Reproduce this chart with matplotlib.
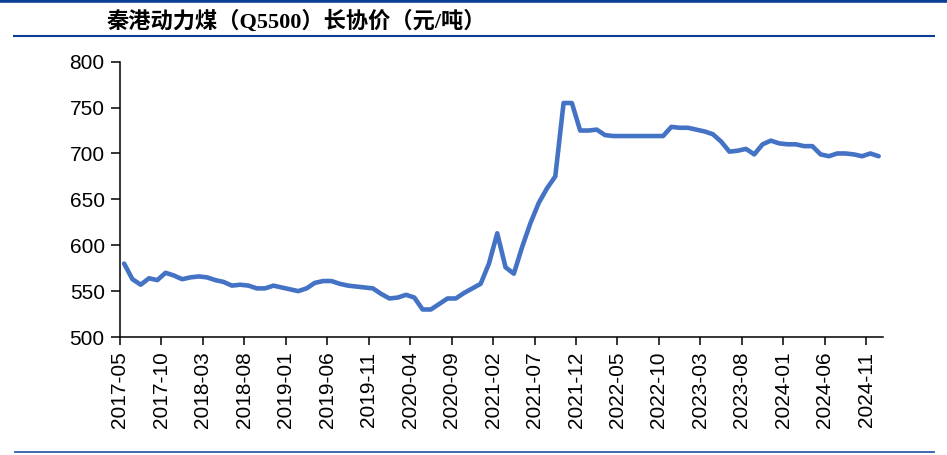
import matplotlib
matplotlib.use("Agg")
import matplotlib.pyplot as plt
import numpy as np
import pandas as pd

# monthly long-term contract price, 2017-05 .. 2024-12
months = pd.period_range("2017-05", periods=92, freq="M")
price = [
    580, 563, 557, 564, 562, 570, 567, 563, 565, 566,
    565, 562, 560, 556, 557, 556, 553, 553, 556, 554,
    552, 550, 553, 559, 561, 561, 558, 556, 555, 554,
    553, 547, 542, 543, 546, 543, 530, 530, 536, 542,
    542, 548, 553, 558, 580, 613, 576, 569, 598, 624,
    646, 662, 675, 755, 755, 725, 725, 726, 720, 719,
    719, 719, 719, 719, 719, 719, 729, 728, 728, 726,
    724, 721, 713, 702, 703, 705, 699, 710, 714, 711,
    710, 710, 708, 708, 699, 697, 700, 700, 699, 697,
    700, 697,
]
tick_step = 5
title = "秦港动力煤（Q5500）长协价（元/吨）"

fig = plt.figure(figsize=(9.47, 4.55), dpi=100)
ax = fig.add_axes([0.1267, 0.2593, 0.8055, 0.6051])

# points sit in the middle of each month
x = np.arange(len(price)) + 0.5
ax.plot(x, price, color="#4472C4", lw=3.3, solid_capstyle="round", solid_joinstyle="round")

ax.set_xlim(0, 92)
ax.set_ylim(500, 800)
ax.set_yticks(range(500, 801, 50))
ticks = list(range(0, len(months), tick_step))
ax.set_xticks(ticks)
ax.set_xticklabels([months[i].strftime("%Y-%m") for i in ticks], rotation=90)

ax.spines["top"].set_visible(False)
ax.spines["right"].set_visible(False)
for s in ("left", "bottom"):
    ax.spines[s].set_linewidth(1.1)
ax.tick_params(axis="both", direction="out", width=1.1,
               labelsize=15, labelfontfamily="Liberation Sans")
ax.tick_params(axis="y", length=6.5, pad=4.5)
ax.tick_params(axis="x", length=5.5, pad=5)

# title and the blue rules
fig.text(0.113, 0.953, title, fontsize=16, fontweight="bold", va="center", ha="left",
         family=["Liberation Serif", "Noto Sans CJK SC"])
blue = "#0B3F97"
fig.add_artist(plt.Line2D([0, 1], [0.9975, 0.9975], color=blue, lw=2.6, transform=fig.transFigure))
fig.add_artist(plt.Line2D([0.015, 0.986], [0.921, 0.921], color=blue, lw=1.5, transform=fig.transFigure))
fig.add_artist(plt.Line2D([0.016, 0.986], [0.007, 0.007], color="#2F5DAA", lw=1.3, transform=fig.transFigure))

fig.savefig("out.png", dpi=100)
